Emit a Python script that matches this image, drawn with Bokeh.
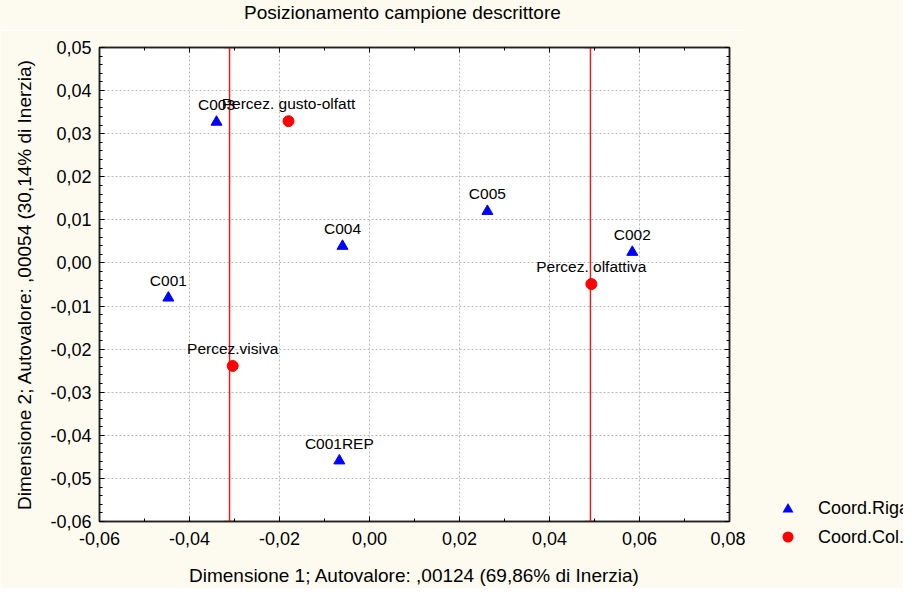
from bokeh.plotting import figure
from bokeh.layouts import row, column
from bokeh.models import (ColumnDataSource, LinearAxis, Range1d, FixedTicker, CustomJSTickFormatter,
                          Whisker, TeeHead, LabelSet, Div)
from bokeh.core.properties import value
from bokeh.embed import file_html
from bokeh.resources import INLINE

# ---- data ----
row_names = ["C001", "C002", "C003", "C004", "C005", "C001REP"]
row_x = [-0.0447, 0.0584, -0.0340, -0.0060, 0.0262, -0.0067]
row_y = [-0.0081, 0.0025, 0.0327, 0.0039, 0.0120, -0.0459]

col_names = ["Percez.visiva", "Percez. olfattiva", "Percez. gusto-olfatt"]
col_x = [-0.0304, 0.0493, -0.0180]
col_y = [-0.0239, -0.0049, 0.0329]

ref_lines_x = [-0.0311, 0.0491]

x_ticks = [-0.06, -0.04, -0.02, 0.00, 0.02, 0.04, 0.06, 0.08]
y_ticks = [-0.06, -0.05, -0.04, -0.03, -0.02, -0.01, 0.00, 0.01, 0.02, 0.03, 0.04, 0.05]
x_minor = [-0.06 + 0.01 * i for i in range(15)]
y_minor = [-0.06 + 0.002 * i for i in range(56)]

title_text = "Posizionamento campione descrittore"
legend_labels = ["Coord.Riga", "Coord.Col."]

FONT = "Liberation Sans"
BG = "#FDFBF0"
BIG = "18px"
TITLE_H = 30
W_MAIN, W_LEG, H_MAIN = 745, 158, 558

p = figure(width=W_MAIN, height=H_MAIN, x_range=Range1d(-0.06, 0.08), y_range=Range1d(-0.06, 0.05),
           output_backend="svg", toolbar_location=None,
           min_border_left=99, min_border_right=16, min_border_top=17, min_border_bottom=66,
           background_fill_color="white", border_fill_color=BG)

p.outline_line_color = "#222222"
p.outline_line_width = 1.5

fmt = CustomJSTickFormatter(code="""
if (Math.abs(tick) < 1e-9) { return '0,00'; }
return tick.toFixed(2).replace('.', ',');
""")

def style_axis(ax, show_labels):
    ax.axis_line_color = "#222222"
    ax.axis_line_width = 1.5
    ax.major_tick_in = 5
    ax.major_tick_out = 0
    ax.minor_tick_in = 3
    ax.minor_tick_out = 0
    ax.major_tick_line_color = "black"
    ax.minor_tick_line_color = "black"
    ax.major_label_text_font = FONT
    ax.major_label_text_font_size = BIG
    ax.major_label_text_color = "black"
    ax.axis_label_text_font = FONT
    ax.axis_label_text_font_size = "19px"
    ax.axis_label_text_font_style = "normal"
    ax.axis_label_text_color = "black"
    if not show_labels:
        ax.major_label_text_font_size = "0px"
        ax.major_label_standoff = 0
        ax.major_label_text_alpha = 0
        ax.axis_label_standoff = 0

p.xaxis.ticker = FixedTicker(ticks=x_ticks, minor_ticks=x_minor)
p.yaxis.ticker = FixedTicker(ticks=y_ticks, minor_ticks=y_minor)
p.xaxis.formatter = fmt
p.yaxis.formatter = fmt
p.xaxis.axis_label = "Dimensione 1; Autovalore: ,00124 (69,86% di Inerzia)"
p.yaxis.axis_label = "Dimensione 2; Autovalore: ,00054 (30,14% di Inerzia)"
style_axis(p.xaxis[0], True)
style_axis(p.yaxis[0], True)
p.xaxis.major_label_standoff = 10
p.yaxis.major_label_standoff = 8
p.xaxis.axis_label_standoff = 17
p.yaxis.axis_label_standoff = 12

top = LinearAxis(ticker=FixedTicker(ticks=x_ticks, minor_ticks=x_minor), formatter=fmt)
style_axis(top, False)
right = LinearAxis(ticker=FixedTicker(ticks=y_ticks, minor_ticks=y_minor), formatter=fmt)
style_axis(right, False)
p.add_layout(top, "above")
p.add_layout(right, "right")

p.xgrid.ticker = FixedTicker(ticks=x_ticks)
p.ygrid.ticker = FixedTicker(ticks=y_ticks)
p.grid.grid_line_color = "#B8B8B8"
p.grid.grid_line_dash = "2 2"
p.grid.grid_line_width = 1

# reference lines
ref_src = ColumnDataSource(dict(x=ref_lines_x, lo=[-0.06] * len(ref_lines_x), hi=[0.05] * len(ref_lines_x)))
wh = Whisker(source=ref_src, base="x", lower="lo", upper="hi", dimension="height",
             line_color="#E02020", line_width=1.5,
             upper_head=TeeHead(size=12, line_color="#E02020", line_width=1.5),
             lower_head=TeeHead(size=12, line_color="#E02020", line_width=1.5))
p.add_layout(wh)

rsrc = ColumnDataSource(dict(x=row_x, y=row_y, name=row_names))
csrc = ColumnDataSource(dict(x=col_x, y=col_y, name=col_names))

p.scatter("x", "y", source=rsrc, marker="triangle", size=11, fill_color="#0000FF", line_color="#0000FF")
p.scatter("x", "y", source=csrc, marker="circle", size=11, fill_color="#FF0000", line_color="#FF0000")

for src in (rsrc, csrc):
    p.add_layout(LabelSet(x="x", y="y", text="name", source=src, text_align="center",
                          text_baseline="bottom", y_offset=9, text_font=value(FONT),
                          text_font_size="15.5px", text_color="black"))

# ---- title strip ----
title_div = Div(width=W_MAIN + W_LEG, height=TITLE_H, styles={"background-color": BG, "margin": "0"},
                text=(f'<svg width="{W_MAIN + W_LEG}" height="{TITLE_H}" style="display:block">'
                      f'<text x="244" y="19" font-family="{FONT}" font-size="19" fill="#000">{title_text}</text>'
                      '</svg>'))

# ---- legend panel ----
gx, tx = 43, 73
y1, y2 = 508 - TITLE_H, 537 - TITLE_H
leg_svg = (f'<svg width="{W_LEG}" height="{H_MAIN}" style="display:block">'
           f'<polygon points="{gx},{y1 - 5} {gx - 5.5},{y1 + 4.5} {gx + 5.5},{y1 + 4.5}" fill="#0000FF"/>'
           f'<circle cx="{gx}" cy="{y2}" r="5.5" fill="#FF0000"/>'
           f'<text x="{tx}" y="{y1}" dominant-baseline="central" font-family="{FONT}" font-size="18" fill="#000">{legend_labels[0]}</text>'
           f'<text x="{tx}" y="{y2}" dominant-baseline="central" font-family="{FONT}" font-size="18" fill="#000">{legend_labels[1]}</text>'
           '</svg>')
leg_div = Div(width=W_LEG, height=H_MAIN, styles={"background-color": BG, "margin": "0"}, text=leg_svg)

layout = column(title_div, row(p, leg_div))
open("out.html", "w").write(file_html(layout, INLINE))
